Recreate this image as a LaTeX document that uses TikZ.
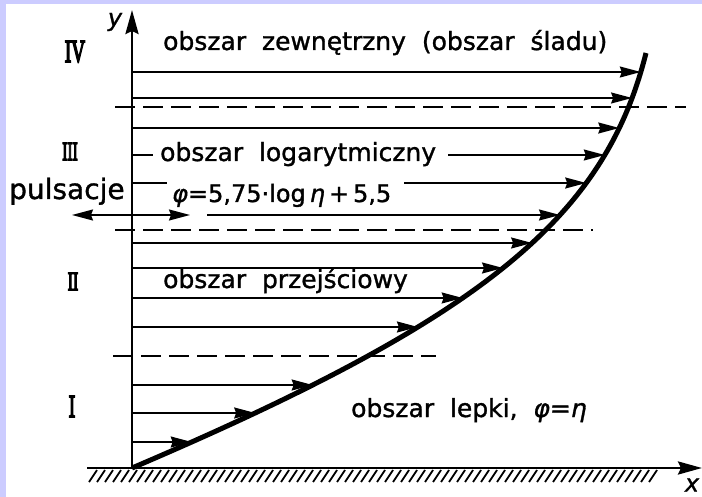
\documentclass[tikz,border=0pt]{standalone}
\usepackage{fontspec}
\newfontfamily\dvs[FakeBold=1.2]{DejaVu Sans}
\newfontfamily\romf[FakeBold=6]{Liberation Serif}
\usetikzlibrary{arrows.meta,intersections}
\definecolor{frameblue}{HTML}{CCCCFF}
\begin{document}
\begin{tikzpicture}[x=1pt,y=-1pt,
  tip/.style={-{Stealth[length=21pt,width=11pt,inset=2pt]}},
  vel/.style={line width=1.6pt,tip},
  plain/.style={line width=1.6pt},
  sep/.style={line width=2.4pt,dash pattern=on 20pt off 8pt},
  axisline/.style={line width=2.8pt,-{Stealth[length=24pt,width=13pt,inset=3pt]}},
  lbl/.style={inner sep=0pt,anchor=base west,font=\dvs\fontsize{25}{30}\selectfont},
  roman/.style={inner sep=0pt,anchor=base,font=\romf\fontsize{32}{36}\selectfont},
  curve/.style={line width=5pt}]
\fill[white] (0,0) rectangle (702,497);
\fill[frameblue] (0,0) rectangle (6,497);
\fill[frameblue] (0,0) rectangle (702,4);
\useasboundingbox (0,0) rectangle (702,497);

% axes
\coordinate (O) at (132,468);
\coordinate (ytop) at (132,10);
\coordinate (gl) at (87,468);
\coordinate (xtip) at (702,468);
\coordinate (T) at (646,53);
\draw[axisline] (O) -- (ytop);
\draw[axisline] (gl) -- (xtip);
\foreach \x in {89,97,...,651} \draw[line width=1.8pt] (\x,482) -- ({\x+8},470);
\node[inner sep=0pt,font=\dvs\itshape\fontsize{24}{28}\selectfont] (ylab) at (115,22) {y};
\node[inner sep=0pt,font=\dvs\itshape\fontsize{24}{28}\selectfont] (xlab) at (692,485) {x};

% profile
\draw[curve,name path=prof] (O) .. controls (483.5,318) and (604.75,218) .. (T);

% velocity arrows
\foreach \yy/\sx [count=\i] in {72/132,98/132,128/132,155/448,183/404,215/207,243/132,268/132,298/132,327/132,385/132,413/132,442/132}{
  \coordinate (s\i) at (\sx,\yy);
  \path[name path=h\i] (s\i) -- (700,\yy);
  \path[name intersections={of=prof and h\i,by=e\i}];
  \draw[vel] (s\i) -- (e\i);
}
\coordinate (a4) at (132,155); \coordinate (b4) at (153,155);
\coordinate (a5) at (132,183); \coordinate (b5) at (167,183);
\draw[plain] (a4) -- (b4);
\draw[plain] (a5) -- (b5);
\coordinate (pl) at (72,215); \coordinate (pr) at (190,215);
\draw[plain,{Stealth[length=21pt,width=11pt,inset=2pt]}-{Stealth[length=21pt,width=11pt,inset=2pt]}] (pl) -- (pr);

% region boundaries
\coordinate (d1l) at (115,107); \coordinate (d1r) at (686,107);
\coordinate (d2l) at (115,230); \coordinate (d2r) at (593,230);
\coordinate (d3l) at (113,356); \coordinate (d3r) at (436,356);
\draw[sep] (d1l) -- (d1r);
\draw[sep] (d2l) -- (d2r);
\draw[sep] (d3l) -- (d3r);

% texts
\node[lbl] (t1) at (163,50) {obszar\ \ zewnętrzny\ \ (obszar\ \ śladu)};
\node[lbl] (t2) at (160,161) {obszar\ \ logarytmiczny};
\node[lbl,font=\dvs\fontsize{24}{28}\selectfont] (t3) at (172,202) {{\itshape φ}=5,75·log\,{\itshape η}\,+\,5,5};
\node[lbl] (t4) at (163,288) {obszar\ \ przejściowy};
\node[lbl] (t5) at (351,417) {obszar\ \ lepki,\ \ {\itshape φ}={\itshape η}};
\node[lbl,font=\dvs\fontsize{28}{32}\selectfont] (t6) at (9,199) {pulsacje};

\node[roman] (r4) at (75,62) {\scalebox{0.6}[1]{IV}};
\node[roman,font=\romf\fontsize{26}{30}\selectfont] (r3) at (70,160) {\scalebox{0.6}[1]{III}};
\node[roman,font=\romf\fontsize{26}{30}\selectfont] (r2) at (73,290) {\scalebox{0.6}[1]{II}};
\node[roman] (r1) at (72,417) {\scalebox{0.6}[1]{I}};
\end{tikzpicture}
\end{document}
